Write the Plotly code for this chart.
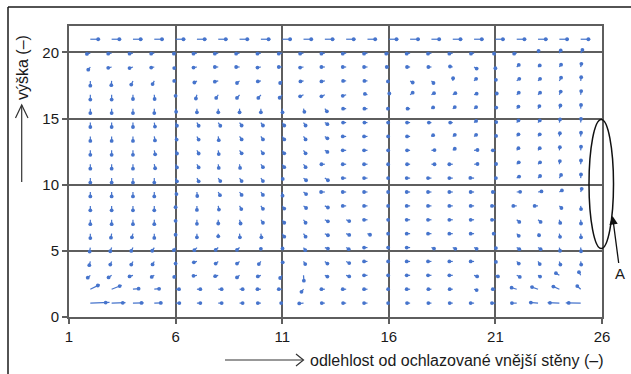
import plotly.graph_objects as go

# Grid of the velocity field: columns (distance from the cooled wall) and rows (height)
x_cols = [2, 3, 4, 5, 6, 7, 8, 9, 10, 11, 12, 13, 14, 15, 16, 17, 18, 19, 20, 21, 22, 23, 24, 25]
y_rows = [21.0, 19.95, 18.9, 17.85, 16.8, 15.75, 14.7, 13.65, 12.6, 11.55,
          10.5, 9.45, 8.4, 7.35, 6.3, 5.25, 4.2, 3.15, 2.1, 1.05]

# Horizontal velocity component, one row per entry of y_rows (top to bottom)
u_grid = [
    [0.46, 0.45, 0.45, 0.45, 0.46, 0.45, 0.44, 0.45, 0.45, 0.46, 0.45, 0.45, 0.44, 0.45, 0.45, 0.46, 0.45, 0.45, 0.45, 0.44, 0.45, 0.45, 0.45, 0.45],
    [-0.2, -0.2, -0.2, -0.18, -0.1, -0.2, -0.2, -0.2, -0.2, -0.2, -0.2, -0.2, -0.2, -0.2, -0.15, -0.2, -0.2, -0.2, -0.18, -0.08, -0.15, 0.03, 0.08, 0.1],
    [-0.12, -0.2, -0.2, -0.18, -0.08, -0.2, -0.2, -0.2, -0.2, -0.2, -0.2, -0.2, -0.2, -0.2, -0.12, -0.18, -0.18, -0.16, 0.15, 0.0, 0.12, 0.1, 0.1, 0.04],
    [0.0, -0.02, -0.1, -0.1, -0.08, -0.15, -0.2, -0.15, -0.18, -0.12, -0.18, -0.2, -0.18, -0.18, -0.05, 0.15, 0.12, 0.02, 0.12, 0.03, 0.15, 0.12, 0.1, 0.03],
    [0.0, 0.0, 0.0, 0.02, 0.0, -0.06, -0.12, -0.15, -0.15, -0.15, -0.2, -0.2, -0.2, -0.15, 0.03, 0.15, 0.15, 0.15, 0.15, 0.08, 0.12, 0.12, 0.08, 0.03],
    [0.0, 0.0, 0.0, 0.0, 0.03, 0.0, 0.0, 0.0, 0.0, 0.02, 0.05, 0.12, -0.18, -0.18, -0.05, -0.15, 0.1, 0.12, 0.12, 0.05, 0.1, 0.08, 0.06, 0.02],
    [0.0, 0.0, 0.0, 0.04, 0.08, 0.1, 0.12, 0.12, 0.12, 0.12, 0.12, 0.15, -0.18, -0.18, -0.04, -0.18, -0.15, -0.15, 0.12, 0.05, 0.1, 0.1, 0.04, 0.02],
    [0.0, 0.0, 0.0, 0.04, 0.06, 0.1, 0.03, 0.12, 0.12, 0.12, 0.12, 0.15, -0.2, -0.2, -0.04, -0.18, 0.1, 0.12, 0.12, 0.04, 0.1, 0.1, 0.03, 0.02],
    [0.0, 0.0, 0.0, 0.05, 0.08, 0.1, 0.03, 0.12, 0.12, 0.12, 0.12, 0.15, -0.2, -0.2, -0.04, -0.18, 0.18, 0.12, 0.2, -0.15, 0.1, 0.1, 0.03, 0.02],
    [0.0, 0.0, 0.0, 0.05, 0.08, 0.1, 0.03, 0.03, 0.12, 0.12, 0.12, -0.2, -0.2, -0.2, -0.04, -0.18, 0.18, -0.2, 0.2, 0.04, 0.12, 0.12, 0.03, 0.02],
    [0.0, 0.0, 0.0, 0.0, 0.08, 0.1, 0.12, 0.12, 0.12, 0.03, 0.15, 0.18, -0.2, -0.2, -0.04, -0.2, -0.2, -0.2, -0.22, 0.03, 0.14, 0.12, 0.1, 0.02],
    [0.0, 0.0, 0.0, 0.0, 0.05, 0.02, 0.1, 0.12, 0.12, 0.02, 0.15, -0.22, -0.2, -0.2, -0.04, -0.2, -0.2, -0.2, -0.2, -0.15, 0.2, 0.2, 0.15, 0.06],
    [0.0, 0.0, 0.0, 0.0, 0.0, 0.0, 0.04, 0.1, 0.12, 0.12, 0.15, 0.18, -0.2, -0.2, -0.04, -0.2, -0.2, -0.2, -0.2, -0.2, -0.2, -0.2, 0.12, 0.02],
    [0.0, 0.0, 0.0, 0.0, 0.0, 0.0, 0.0, 0.06, 0.12, 0.12, 0.12, 0.18, 0.18, -0.2, -0.04, -0.2, -0.2, -0.2, -0.2, -0.2, 0.15, 0.15, 0.05, 0.02],
    [0.0, -0.04, -0.06, 0.0, 0.0, 0.0, 0.0, 0.02, 0.03, 0.12, 0.12, 0.18, 0.18, 0.15, -0.04, -0.2, -0.2, -0.2, -0.2, -0.1, 0.12, 0.06, 0.04, 0.02],
    [-0.04, -0.08, -0.1, -0.12, -0.1, -0.15, -0.15, -0.15, 0.0, 0.02, 0.1, 0.18, 0.15, -0.2, -0.04, -0.2, 0.15, 0.15, 0.15, 0.03, 0.15, 0.15, 0.04, 0.02],
    [-0.06, -0.08, -0.1, -0.1, 0.0, -0.18, -0.15, -0.15, -0.12, 0.03, 0.1, 0.15, 0.18, -0.2, -0.04, -0.2, -0.2, -0.2, -0.2, 0.03, 0.12, 0.1, 0.06, 0.03],
    [-0.15, -0.18, -0.2, -0.15, -0.08, -0.2, -0.18, -0.15, -0.18, -0.12, 0.02, 0.15, 0.18, -0.2, -0.04, -0.2, -0.2, -0.2, 0.18, 0.15, 0.18, 0.12, -0.2, -0.1],
    [0.44, 0.47, 0.33, 0.28, 0.2, 0.2, 0.2, 0.18, -0.2, -0.2, -0.12, -0.2, -0.2, -0.2, -0.04, -0.2, -0.18, -0.18, 0.15, -0.15, -0.3, -0.35, -0.35, -0.2],
    [0.9, 0.65, 0.5, 0.38, 0.22, 0.2, 0.2, 0.18, -0.18, -0.06, -0.25, -0.18, -0.18, -0.2, -0.04, -0.18, -0.18, -0.18, -0.2, -0.2, -0.28, -0.42, -0.55, -0.7],
]

# Vertical velocity component, same layout as u_grid
v_grid = [
    [0, 0, 0, 0, 0, 0, 0, 0, 0, 0, 0, 0, 0, 0, 0, 0, 0, 0, 0, 0, 0, 0, 0, 0],
    [-0.08, -0.05, -0.05, -0.05, -0.05, -0.05, -0.05, -0.05, -0.05, -0.05, -0.05, -0.05, -0.05, -0.05, -0.05, -0.05, -0.05, -0.05, -0.05, -0.05, -0.05, 0.22, 0.25, 0.3],
    [-0.25, -0.08, -0.1, -0.05, -0.1, -0.05, 0, 0, -0.05, 0, -0.05, 0, 0, 0, 0, 0, 0, 0.05, -0.15, -0.12, 0.2, 0.15, 0.22, 0.3],
    [-0.45, -0.4, -0.35, -0.3, 0, -0.15, -0.07, -0.2, -0.05, -0.2, -0.05, -0.05, 0, 0, -0.05, -0.15, -0.2, 0.25, 0.2, 0.1, 0.2, 0.2, 0.3, 0.35],
    [-0.45, -0.45, -0.4, -0.4, -0.1, -0.35, -0.3, -0.3, -0.3, -0.28, -0.15, -0.15, -0.1, 0.08, 0.12, 0.2, 0.15, 0.15, 0.1, 0.12, 0.2, 0.2, 0.3, 0.35],
    [-0.42, -0.42, -0.42, -0.42, -0.3, -0.35, -0.35, -0.35, -0.35, -0.35, -0.3, -0.25, 0, 0, 0, 0, 0.12, 0.15, 0.15, 0.1, 0.2, 0.25, 0.3, 0.35],
    [-0.42, -0.42, -0.42, -0.38, -0.3, -0.3, -0.3, -0.28, -0.28, -0.28, -0.28, -0.15, 0, 0, 0, 0, 0, 0, 0.15, 0.05, 0.2, 0.2, 0.3, 0.35],
    [-0.42, -0.42, -0.42, -0.38, -0.3, -0.3, -0.35, -0.28, -0.28, -0.28, -0.28, -0.18, 0, 0, 0, 0, 0.12, 0.15, 0.15, 0.05, 0.2, 0.2, 0.3, 0.35],
    [-0.42, -0.42, -0.42, -0.38, -0.3, -0.3, -0.35, -0.28, -0.28, -0.28, -0.28, -0.15, 0, 0, 0, 0, 0.02, 0.15, 0.03, 0, 0.2, 0.2, 0.3, 0.35],
    [-0.42, -0.42, -0.42, -0.38, -0.3, -0.3, -0.35, -0.35, -0.28, -0.28, -0.28, 0, 0, 0, 0, 0, 0, 0, 0.02, 0.02, 0.18, 0.18, 0.3, 0.35],
    [-0.42, -0.42, -0.42, -0.42, -0.3, -0.3, -0.28, -0.28, -0.28, -0.08, -0.2, -0.2, 0, 0, 0, 0, 0, 0, 0.02, 0, 0.15, 0.2, 0.3, 0.35],
    [-0.42, -0.42, -0.42, -0.42, -0.2, -0.38, -0.3, -0.28, -0.28, -0.35, -0.2, 0, 0, 0, 0, 0, 0, 0, 0, 0, 0.02, 0.05, 0.15, 0.3],
    [-0.42, -0.42, -0.42, -0.42, -0.12, -0.38, -0.35, -0.3, -0.28, -0.25, -0.2, -0.15, 0, 0, 0, 0, 0, 0, 0, 0, 0, 0, -0.2, -0.3],
    [-0.42, -0.42, -0.42, -0.42, -0.1, -0.38, -0.35, -0.35, -0.28, -0.28, -0.28, -0.15, -0.12, 0, 0, 0, 0, 0, 0, 0, -0.2, -0.2, -0.3, -0.35],
    [-0.42, -0.38, -0.35, -0.4, -0.1, -0.35, -0.25, -0.35, -0.35, -0.28, -0.28, -0.15, -0.12, -0.1, 0, 0, 0, 0, 0, 0, -0.2, -0.15, -0.3, -0.35],
    [-0.38, -0.35, -0.32, -0.3, -0.25, -0.25, -0.22, -0.22, -0.12, -0.08, -0.25, -0.1, -0.15, 0, 0, 0, -0.1, -0.12, -0.12, -0.05, -0.15, -0.15, -0.3, -0.35],
    [-0.35, -0.3, -0.3, -0.28, -0.2, -0.08, -0.2, -0.2, -0.25, -0.08, -0.25, -0.2, -0.15, 0, 0, 0, 0, 0, 0, -0.05, -0.2, -0.25, -0.3, -0.3],
    [-0.22, -0.2, -0.1, -0.15, -0.15, -0.05, -0.08, -0.2, -0.1, -0.25, -0.5, -0.12, -0.1, 0, 0, 0, 0, 0, -0.1, -0.1, -0.15, -0.12, 0.2, 0.3],
    [0.35, 0.3, 0.05, 0.04, 0, 0, 0, 0, 0, 0, -0.25, 0, 0, 0, 0, 0, 0, 0, -0.08, 0, 0.15, 0.2, 0.25, 0.3],
    [0.05, 0.03, 0.02, 0.02, 0, 0, 0, 0, 0, 0, -0.03, 0, 0, 0, 0, 0, 0, 0, 0, 0, 0, 0.05, 0.03, 0.02],
]

x_ticks = [1, 6, 11, 16, 21, 26]
y_ticks = [0, 5, 10, 15, 20]

x_title = "odlehlost od ochlazované vnější stěny (–)"
y_title = "výška (–)"
region_label = "A"

# Figure geometry (pixels)
W, H = 631, 374
ML, MR, MT, MB = 69, 29, 26, 57
PW, PH = W - ML - MR, H - MT - MB


def px(x):
    return (x - ML) / PW


def py(y):
    return (H - MB - y) / PH


VEC = "#4674cc"
GRID = "#5e5e5e"
FONT = "Liberation Sans, Arial, sans-serif"
HEAD_POS = 0.8  # arrow head sits slightly behind the tip of the shaft

# Build the arrow shafts (tail at the grid node) and the arrow heads
lx, ly, hx, hy = [], [], [], []
for row_y, urow, vrow in zip(y_rows, u_grid, v_grid):
    for col_x, u, v in zip(x_cols, urow, vrow):
        lx += [col_x, col_x + u, None]
        ly += [row_y, row_y + v, None]
        hx.append(col_x + HEAD_POS * u)
        hy.append(row_y + HEAD_POS * v)

fig = go.Figure()
fig.add_trace(go.Scatter(x=lx, y=ly, mode="lines",
                         line=dict(color=VEC, width=1.2),
                         hoverinfo="skip", showlegend=False))
fig.add_trace(go.Scatter(x=hx, y=hy, mode="markers",
                         marker=dict(color=VEC, size=3.8, line=dict(width=0)),
                         hoverinfo="skip", showlegend=False))

axis_common = dict(showgrid=True, gridcolor=GRID, gridwidth=1.6,
                   showline=True, linecolor=GRID, linewidth=2, mirror=True,
                   ticks="outside", ticklen=5, tickwidth=1.5, tickcolor=GRID,
                   zeroline=False, tickfont=dict(family=FONT, size=15, color="#1a1a1a"))

fig.update_xaxes(range=[1, 26], tickmode="array", tickvals=x_ticks, **axis_common)
fig.update_yaxes(range=[0, 22], tickmode="array", tickvals=y_ticks, **axis_common)

shapes = []
# outer frame (left and top edges)
shapes.append(dict(type="line", xref="paper", yref="paper",
                   x0=px(8), y0=py(7), x1=px(8), y1=py(H + 5),
                   line=dict(color="#1a1a1a", width=1.5)))
shapes.append(dict(type="line", xref="paper", yref="paper",
                   x0=px(8), y0=py(7), x1=px(W + 5), y1=py(7),
                   line=dict(color="#1a1a1a", width=1.5)))
# y-axis direction arrow
shapes.append(dict(type="line", xref="paper", yref="paper",
                   x0=px(21.7), y0=py(182), x1=px(21.7), y1=py(105),
                   line=dict(color="#333", width=1.2)))
shapes.append(dict(type="path", xref="paper", yref="paper",
                   path=f"M {px(15.5)},{py(118)} L {px(21.7)},{py(105)} L {px(28)},{py(118)}",
                   line=dict(color="#333", width=1.2)))
# x-axis direction arrow
shapes.append(dict(type="line", xref="paper", yref="paper",
                   x0=px(225), y0=py(360), x1=px(303), y1=py(360),
                   line=dict(color="#333", width=1.2)))
shapes.append(dict(type="path", xref="paper", yref="paper",
                   path=f"M {px(296)},{py(354)} L {px(303.5)},{py(360)} L {px(296)},{py(366)}",
                   line=dict(color="#333", width=1.2)))
# region A outline on the right wall
shapes.append(dict(type="circle", xref="paper", yref="paper",
                   x0=px(589), x1=px(613.5), y0=py(248.5), y1=py(119.5),
                   line=dict(color="#111", width=1.5)))

annotations = [
    dict(text=y_title, xref="paper", yref="paper", x=px(22.5), y=py(67.5),
         textangle=-90, showarrow=False, xanchor="center", yanchor="middle",
         font=dict(family=FONT, size=16, color="#1a1a1a")),
    dict(text=x_title, xref="paper", yref="paper", x=px(308), y=py(360),
         showarrow=False, xanchor="left", yanchor="middle",
         font=dict(family=FONT, size=16, color="#1a1a1a")),
    dict(text=region_label, xref="paper", yref="paper", x=px(612.5), y=py(216),
         ax=7.5, ay=57, showarrow=True, arrowhead=2, arrowsize=1.3, arrowwidth=1.3,
         arrowcolor="#111", font=dict(family=FONT, size=15, color="#1a1a1a")),
]

fig.update_layout(width=W, height=H,
                  margin=dict(l=ML, r=MR, t=MT, b=MB),
                  paper_bgcolor="white", plot_bgcolor="white",
                  shapes=shapes, annotations=annotations,
                  showlegend=False)

fig.write_html("out.html")
